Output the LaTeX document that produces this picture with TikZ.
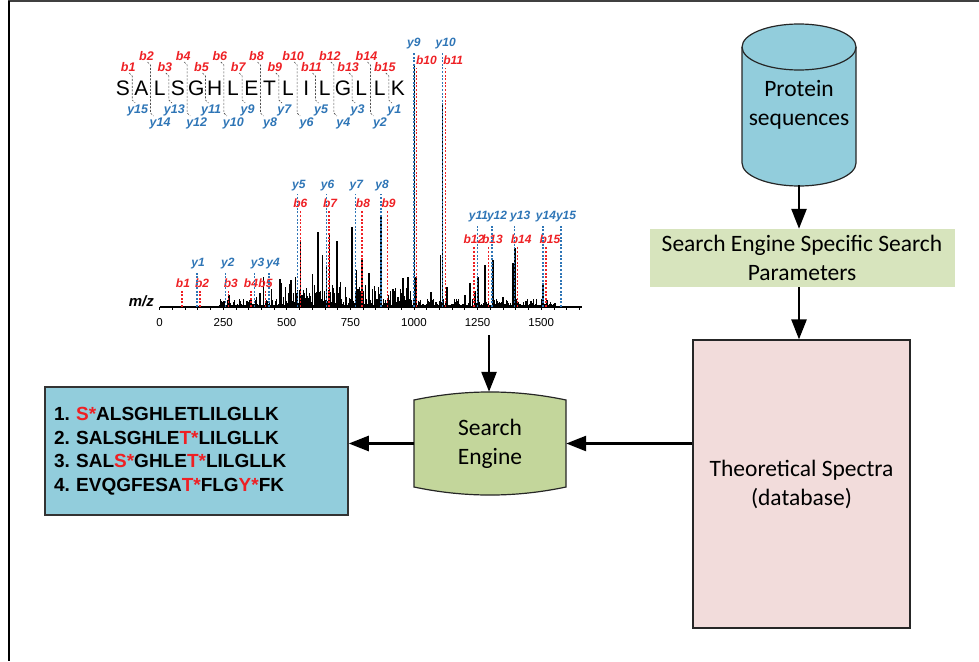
\documentclass[tikz,border=0pt]{standalone}
\usepackage{fontspec}
\setmainfont{Carlito}
\newfontfamily\arial{Liberation Sans}
\usetikzlibrary{arrows.meta,positioning}
\definecolor{seqblue}{RGB}{146,205,220}
\definecolor{paramgreen}{RGB}{215,228,189}
\definecolor{enginegreen}{RGB}{195,214,155}
\definecolor{dbpink}{RGB}{242,220,219}
\definecolor{ionred}{RGB}{238,32,36}
\definecolor{ionblue}{RGB}{46,117,182}
\tikzset{
    flow/.style={-{Triangle[length=20pt,width=15pt]}, line width=2.6pt},
    box/.style={rectangle, inner sep=0pt, align=center, font=\fontsize{23.5}{29}\selectfont},
    % spectrum styles
    peak/.style={line width=1.4pt},
    ionb/.style={ionred, line width=1.3pt, dash pattern=on 2pt off 1.6pt},
    iony/.style={ionblue, line width=1.3pt, dash pattern=on 2pt off 1.6pt},
    ionlab/.style={font=\arial\bfseries\itshape\fontsize{12}{12}\selectfont, inner sep=0pt},
    peplab/.style={font=\arial\bfseries\itshape\fontsize{12.5}{12.5}\selectfont, inner sep=0pt},
    cut/.style={black!70, line width=0.6pt, dash pattern=on 2pt off 1.5pt}
}
\begin{document}
\begin{tikzpicture}[x=1pt,y=-1pt]
\useasboundingbox (0,0) rectangle (979,661);
% Frame
\draw[line width=2pt, black!75] (8,1.5) -- (979,1.5);
\draw[line width=2pt] (8.5,1) -- (8.5,661);

% Protein sequences (database cylinder)
\filldraw[fill=seqblue, draw=black!85, line width=1.2pt] (742,47) arc[start angle=180, end angle=360, x radius=57, y radius=23]
    -- (856,163) arc[start angle=0, end angle=180, x radius=57, y radius=23] -- cycle;
\draw[black!85, line width=1.2pt] (742,47) arc[start angle=180, end angle=0, x radius=57, y radius=23];
\node[box, minimum width=114pt, minimum height=160pt] (protein) at (799,105) {Protein\\sequences};

% Parameters and theoretical spectra
\node[box, fill=paramgreen, minimum width=305pt, minimum height=58pt] (params) at (802,258) {Search Engine Specific Search\\Parameters};
\node[box, draw=black!85, line width=1.2pt, fill=dbpink, minimum width=217pt, minimum height=288pt] (theory) at (801.5,484) {Theoretical Spectra\\(database)};

% Search engine
\filldraw[fill=enginegreen, draw=black!85, line width=1.2pt] (414,400) .. controls (464.7,389.3) and (515.3,389.3) .. (566,400)
    -- (566,487) .. controls (515.3,497.7) and (464.7,497.7) .. (414,487) -- cycle;
\node[box, minimum width=152pt, minimum height=103pt] (engine) at (490,443.5) {Search\\Engine};

% Ranked peptide matches
\node[rectangle, draw=black!80, line width=1.5pt, fill=seqblue, minimum height=128pt, text width=285pt, inner xsep=9pt, align=left,
    font=\arial\bfseries\frenchspacing\fontsize{19}{23.5}\selectfont] (results) at (196.5,451) {1. \textcolor{ionred}{S*}ALSGHLETLILGLLK\\
    2. SALSGHLE\textcolor{ionred}{T*}LILGLLK\\
    3. SAL\textcolor{ionred}{S*}GHLE\textcolor{ionred}{T*}LILGLLK\\
    4. EVQGFESA\textcolor{ionred}{T*}FLG\textcolor{ionred}{Y*}FK};

% Peptide sequence with fragment cleavages
\foreach \aa [count=\i] in {S,A,L,S,G,H,L,E,T,L,I,L,G,L,L,K} {
    \node[font=\arial\fontsize{21}{21}\selectfont, inner sep=0pt, anchor=base] (aa\i) at ({123+18.33*(\i-1)},95) {\aa};
}
\foreach \i in {1,...,15} {
    \pgfmathsetmacro\g{132.2+18.33*(\i-1)}
    \pgfmathtruncatemacro\yi{16-\i}
    \pgfmathsetmacro\cuttop{isodd(\i) ? 73 : 62}
    \pgfmathsetmacro\cutbot{isodd(\i) ? 103 : 116}
    \pgfmathsetmacro\brow{isodd(\i) ? 67 : 56}
    \pgfmathsetmacro\yrow{isodd(\i) ? 110 : 123}
    \pgfmathsetmacro\yoff{isodd(\i) ? 5.5 : 9.5}
    \draw[cut] (\g-3,\cuttop) -- (\g,\cuttop+3) -- (\g,\cutbot-3) -- (\g+3,\cutbot);
    \node[peplab, text=ionred] (pb\i) at (\g-4,\brow) {b\i};
    \node[peplab, text=ionblue] (py\yi) at (\g+\yoff,\yrow) {y\yi};
}

% MS/MS spectrum
\begin{scope}[shift={(159.6,307)}, x=0.2544pt, y=1pt]
    \pgfmathsetseed{42}
    \foreach \m in {235,238,...,1560} {
        \pgfmathsetmacro\h{1.5+(\m>480)*(\m<1000)*16*rnd^2+7*rnd^2}
        \draw[line width=1pt] (\m,0) -- (\m,\h);
    }
    \foreach \m/\h in {1001/242, 1113/204, 553/67, 535/30, 623/75, 641/52, 668/74, 698/66, 756/80, 773/37, 795/47, 823/34,
        870/90, 917/18, 976/30, 1008/30, 1067/15, 1105/52, 1220/24, 1251/30, 1279/42, 1310/47, 1389/44, 1397/59, 1507/22,
        1523/7, 600/33, 517/27, 474/28, 408/30, 395/14, 273/12, 316/6, 1240/16, 1175/8, 1350/10, 1460/6, 860/20, 900/12,
        640/30, 655/40, 710/25, 730/20, 780/18, 810/22, 1130/20, 1200/12, 380/10, 440/18, 555/20, 957/29} {
        \draw[peak] (\m,0) -- (\m,\h);
    }
    % axis
    \draw[line width=2pt] (0,0) -- (1660,0);
    \foreach \t in {0,50,...,1650} {
        \draw[line width=0.8pt] (\t,0) -- (\t,-3);
    }
    \foreach \t in {0,250,...,1500} {
        \node[font=\arial\fontsize{11.5}{11.5}\selectfont, inner sep=0pt] (tick\t) at (\t,-16) {\t};
    }
    \node[font=\arial\bfseries\itshape\fontsize{15}{15}\selectfont, inner sep=0pt, anchor=east] (mz) at (-22,6) {m/z};
    % b ions
    \foreach \m/\dx/\lh [count=\n] in {88.04/1/24, 159.08/2/24, 272.16/2/24, 359.19/0/24, 416.21/0/24, 553.27/0/104,
        666.36/1/104, 795.40/1/104, 896.45/1/104, 1009.53/10/247, 1122.62/8/247, 1235.70/0/68, 1292.72/4/68,
        1405.81/4/68, 1518.89/4/68} {
        \draw[ionb] (\m,0) -- (\m,\lh-8);
        \node[ionlab, text=ionred] (b\n) at ([xshift=\dx pt]\m,\lh) {b\n};
    }
    % y ions
    \foreach \m/\dx/\lh [count=\n] in {147.11/1/43, 260.20/2/43, 373.28/3/43, 430.30/4/43, 543.38/1/121, 656.47/1/121,
        769.55/1/121, 870.60/1/121, 999.64/0/263, 1112.73/3/263, 1249.79/1/90, 1306.81/5/90, 1393.84/6/90,
        1506.92/3/90, 1577.96/5/90} {
        \draw[iony] (\m,0) -- (\m,\lh-8);
        \node[ionlab, text=ionblue] (y\n) at ([xshift=\dx pt]\m,\lh) {y\n};
    }
    \coordinate (specout) at (1295,-28);
\end{scope}

% Connectors
\draw[flow] (protein.south) -- (protein.south |- params.north);
\draw[flow] (params.south -| protein) -- (theory.north -| protein);
\draw[flow] (theory.west |- engine.east) -- (engine.east);
\draw[flow] (engine.west) -- (engine.west -| results.east);
\draw[flow] (specout) -- (specout |- engine.north);
\end{tikzpicture}
\end{document}
